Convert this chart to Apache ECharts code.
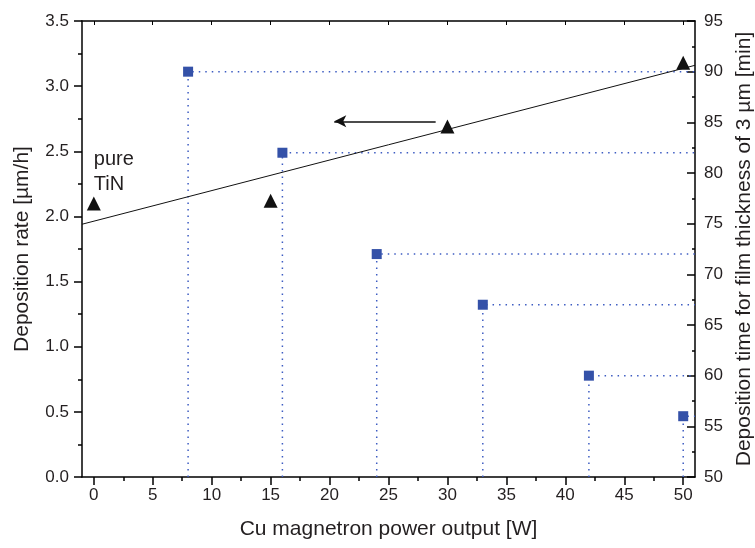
<!DOCTYPE html>
<html style="height: 100%">
<head>
    <meta charset="utf-8">
    <title>Deposition rate</title>
    <script src="https://cdn.jsdelivr.net/npm/echarts@6/dist/echarts.min.js"></script>
</head>
<body style="height: 100%; margin: 0; background: #fff">
<div id="main" style="width: 755px; height: 548px"></div>
<script type="text/javascript">

    // deposition rate (triangles, left axis)
    var ratePower = [0, 15, 30, 50];
    var rateValue = [2.10, 2.12, 2.69, 3.18];

    // linear fit of the rate, drawn across the whole axis
    var fitPower = [-1, 51];
    var fitValue = [1.94, 3.16];

    // deposition time for 3 um (squares, right axis)
    var timePower = [8, 16, 24, 33, 42, 50];
    var timeValue = [90, 82, 72, 67, 60, 56];

    // tick labels of the x axis
    var xMajor = [0, 5, 10, 15, 20, 25, 30, 35, 40, 45, 50];
    var xMinor = [2.5, 7.5, 12.5, 17.5, 22.5, 27.5, 32.5, 37.5, 42.5, 47.5];

    var textColor = '#231f20';
    var dotBlue = '#3d5cc2';
    var squareBlue = '#3451a8';
    var font = 'Liberation Sans';

    var myChart = echarts.init(document.getElementById('main'));

    var xRange = { min: -1, max: 51 };

    // dotted drop lines from each square to the bottom and to the right edge
    var dropSeries = timePower.map(function (p, i) {
        return {
            type: 'line',
            yAxisIndex: 1,
            symbol: 'none',
            silent: true,
            z: 1,
            lineStyle: { color: dotBlue, width: 1.5, type: [1.5, 5] },
            data: [[p, 50], [p, timeValue[i]], [xRange.max, timeValue[i]]]
        };
    });

    option = {
        animation: false,
        grid: { left: 82, right: 60, top: 21, bottom: 71, outerBoundsMode: 'none', containLabel: false },
        xAxis: [
            {
                type: 'value',
                min: xRange.min, max: xRange.max,
                position: 'bottom',
                name: 'Cu magnetron power output [W]',
                nameLocation: 'middle',
                nameGap: 42,
                nameTextStyle: { color: textColor, fontSize: 21, fontFamily: font },
                axisLine: { onZero: false, lineStyle: { color: '#000', width: 1.5 } },
                axisTick: { customValues: xMajor, length: 8, lineStyle: { color: '#000', width: 1.5 } },
                axisLabel: { customValues: xMajor, color: textColor, fontSize: 17, margin: 10, fontFamily: font },
                splitLine: { show: false }
            },
            {
                type: 'value',
                min: xRange.min, max: xRange.max,
                position: 'top',
                axisLine: { onZero: false, lineStyle: { color: '#000', width: 1.5 } },
                axisTick: { customValues: xMajor, inside: true, length: 4, lineStyle: { color: '#000', width: 1 } },
                axisLabel: { show: false },
                splitLine: { show: false }
            },
            {
                type: 'value',
                min: xRange.min, max: xRange.max,
                position: 'bottom',
                axisLine: { show: false, onZero: false },
                axisTick: { customValues: xMinor, length: 4, lineStyle: { color: '#000', width: 1.5 } },
                axisLabel: { show: false },
                splitLine: { show: false }
            }
        ],
        yAxis: [
            {
                type: 'value',
                min: 0, max: 3.5, interval: 0.5,
                position: 'left',
                name: 'Deposition rate [µm/h]',
                nameLocation: 'middle',
                nameRotate: 90,
                nameGap: 49,
                nameTextStyle: { color: textColor, fontSize: 21, fontFamily: font },
                axisLine: { show: true, onZero: false, lineStyle: { color: '#000', width: 1.5 } },
                axisTick: { show: true, length: 8, lineStyle: { color: '#000', width: 1.5 } },
                minorTick: { show: true, splitNumber: 2, length: 4, lineStyle: { color: '#000', width: 1.5 } },
                axisLabel: {
                    color: textColor, fontSize: 17, margin: 13, fontFamily: font,
                    formatter: function (v) { return v.toFixed(1); }
                },
                splitLine: { show: false }
            },
            {
                type: 'value',
                min: 50, max: 95, interval: 5,
                position: 'right',
                name: 'Deposition time for film thickness of 3 µm [min]',
                nameLocation: 'middle',
                nameRotate: 90,
                nameGap: 35,
                nameTextStyle: { color: textColor, fontSize: 21, fontFamily: font },
                axisLine: { show: true, onZero: false, lineStyle: { color: '#000', width: 1.5 } },
                axisTick: { show: true, inside: true, length: 8, lineStyle: { color: '#000', width: 1.5 } },
                minorTick: { show: true, splitNumber: 2, length: 3, lineStyle: { color: '#000', width: 1.5 } },
                axisLabel: { color: textColor, fontSize: 17, margin: 9, fontFamily: font },
                splitLine: { show: false }
            }
        ],
        series: dropSeries.concat([
            {
                name: 'fit',
                type: 'line',
                symbol: 'none',
                silent: true,
                z: 2,
                lineStyle: { color: '#111', width: 1 },
                data: fitPower.map(function (p, i) { return [p, fitValue[i]]; }),
                markLine: {
                    silent: true,
                    symbol: ['none', 'arrow'],
                    symbolSize: [9, 12],
                    label: { show: false },
                    lineStyle: { color: '#111', width: 1.5, type: 'solid' },
                    data: [[{ coord: [29, 2.73] }, { coord: [20.4, 2.73] }]]
                }
            },
            {
                name: 'rate',
                type: 'scatter',
                symbol: 'triangle',
                symbolSize: 14,
                z: 3,
                itemStyle: { color: '#111', opacity: 1 },
                data: ratePower.map(function (p, i) { return [p, rateValue[i]]; }),
                markPoint: {
                    silent: true,
                    symbol: 'circle',
                    symbolSize: 0,
                    label: {
                        show: true,
                        position: 'right',
                        distance: 0,
                        formatter: 'pure\nTiN',
                        color: textColor,
                        fontSize: 20,
                        lineHeight: 25,
                        fontFamily: font
                    },
                    data: [{ coord: [0, 2.34] }]
                }
            },
            {
                name: 'time',
                type: 'scatter',
                yAxisIndex: 1,
                symbol: 'rect',
                symbolSize: 10,
                z: 3,
                itemStyle: { color: squareBlue, opacity: 1 },
                data: timePower.map(function (p, i) { return [p, timeValue[i]]; })
            }
        ])
    };

    myChart.setOption(option);
</script>
</body>
</html>
